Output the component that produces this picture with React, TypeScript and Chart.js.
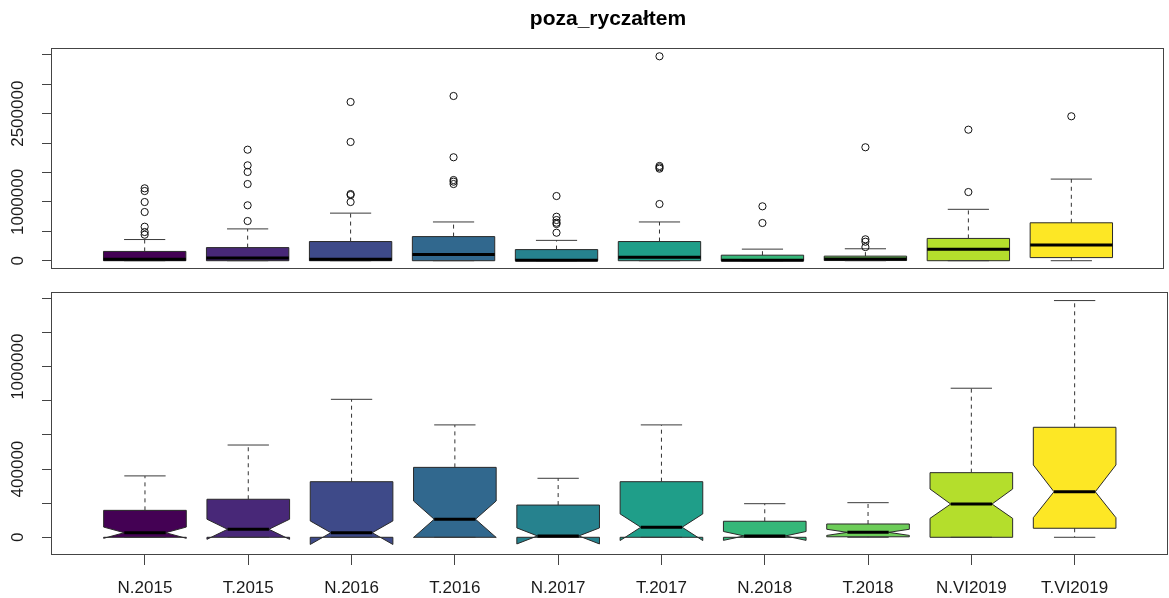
import React, { useEffect, useRef } from 'react';
import { Chart, registerables } from 'chart.js';

Chart.register(...registerables);

// ---------- data ----------
const chartTitle = 'poza_ryczałtem';
const categories = ['N.2015', 'T.2015', 'N.2016', 'T.2016', 'N.2017', 'T.2017', 'N.2018', 'T.2018', 'N.VI2019', 'T.VI2019'];
const boxColors = ['#440154', '#482878', '#3E4A89', '#31688E', '#26828E', '#1F9E89', '#35B779', '#6DCD59', '#B4DE2C', '#FDE725'];

const whiskerLow = [0, 0, 0, 0, 0, 0, 0, 0, 0, 0];
const q1 = [0, 0, 0, 0, 0, 0, 0, 3000, 0, 53000];
const median = [27000, 47000, 27000, 106000, 8000, 59000, 8000, 29000, 195000, 267000];
const q3 = [158000, 223000, 326000, 410000, 189000, 326000, 94000, 78000, 379000, 645000];
const whiskerHigh = [360000, 541000, 809000, 659000, 346000, 659000, 197000, 203000, 874000, 1388000];
const notchLow = [-6000, -12000, -42000, -1000, -39000, -19000, -18000, 11000, 111000, 115000];
const notchHigh = [60000, 106000, 96000, 213000, 55000, 137000, 34000, 47000, 283000, 424000];

const outliers: number[][] = [
  [1231000, 1185000, 998000, 828000, 578000, 488000, 442000],
  [1888000, 1622000, 1509000, 1304000, 942000, 675000],
  [2699000, 2019000, 1134000, 1117000, 998000],
  [2801000, 1759000, 1372000, 1344000, 1304000],
  [1100000, 748000, 692000, 646000, 624000, 476000],
  [3476000, 1611000, 1588000, 1565000, 964000],
  [925000, 641000],
  [1929000, 364000, 323000, 232000],
  [2228000, 1168000],
  [2456000],
];

const topYTicks = [0, 500000, 1000000, 1500000, 2000000, 2500000, 3000000, 3500000];
const topYLabels = [0, 1000000, 2500000];
const bottomYTicks = [0, 200000, 400000, 600000, 800000, 1000000, 1200000, 1400000];
const bottomYLabels = [0, 400000, 1000000];

// ---------- styles ----------
const FONT = '"Liberation Sans", Arial, Helvetica, sans-serif';
const AXIS_COLOR = '#444';
const TEXT_COLOR = '#1a1a1a';
const BOX_HALF = 0.4;
const CAP_HALF = 0.2;

function boxPlugin(notched: boolean) {
  return {
    id: 'boxes',
    beforeDatasetsDraw(chart: any) {
      const { ctx, scales } = chart;
      const x = scales.x;
      const y = scales.y;
      const line = (x1: number, y1: number, x2: number, y2: number) => {
        ctx.beginPath();
        ctx.moveTo(x1, y1);
        ctx.lineTo(x2, y2);
        ctx.stroke();
      };
      ctx.save();
      categories.forEach((_, i) => {
        const cx = x.getPixelForValue(i + 1);
        const hw = x.getPixelForValue(i + 1 + BOX_HALF) - cx;
        const chw = x.getPixelForValue(i + 1 + CAP_HALF) - cx;
        const yLo = y.getPixelForValue(whiskerLow[i]);
        const yQ1 = y.getPixelForValue(q1[i]);
        const yMed = y.getPixelForValue(median[i]);
        const yQ3 = y.getPixelForValue(q3[i]);
        const yHi = y.getPixelForValue(whiskerHigh[i]);
        const yNl = y.getPixelForValue(notchLow[i]);
        const yNh = y.getPixelForValue(notchHigh[i]);

        // box
        ctx.fillStyle = boxColors[i];
        ctx.strokeStyle = '#2a2a2a';
        ctx.lineWidth = 1;
        ctx.setLineDash([]);
        ctx.beginPath();
        if (notched) {
          ctx.moveTo(cx - hw, yQ1);
          ctx.lineTo(cx - hw, yNl);
          ctx.lineTo(cx - hw / 2, yMed);
          ctx.lineTo(cx - hw, yNh);
          ctx.lineTo(cx - hw, yQ3);
          ctx.lineTo(cx + hw, yQ3);
          ctx.lineTo(cx + hw, yNh);
          ctx.lineTo(cx + hw / 2, yMed);
          ctx.lineTo(cx + hw, yNl);
          ctx.lineTo(cx + hw, yQ1);
          ctx.closePath();
        } else {
          ctx.rect(cx - hw, yQ3, 2 * hw, yQ1 - yQ3);
        }
        ctx.fill();
        ctx.stroke();

        // whiskers
        ctx.strokeStyle = '#333';
        ctx.setLineDash([4, 4]);
        if (yHi < yQ3) line(cx, yQ3, cx, yHi);
        if (yLo > yQ1) line(cx, yQ1, cx, yLo);
        ctx.setLineDash([]);
        ctx.strokeStyle = '#3a3a3a';
        line(cx - chw, yHi, cx + chw, yHi);
        line(cx - chw, yLo, cx + chw, yLo);

        // median
        ctx.strokeStyle = '#000';
        ctx.lineWidth = 3;
        ctx.lineCap = 'butt';
        const mw = notched ? hw / 2 : hw;
        line(cx - mw, yMed, cx + mw, yMed);
        ctx.lineWidth = 1;
      });
      ctx.restore();
    },
  };
}

function framePlugin(labels: number[]) {
  return {
    id: 'frame',
    afterDraw(chart: any) {
      const { ctx, chartArea, scales } = chart;
      ctx.save();
      ctx.strokeStyle = AXIS_COLOR;
      ctx.lineWidth = 1;
      ctx.setLineDash([]);
      ctx.strokeRect(
        Math.round(chartArea.left) - 0.5,
        Math.round(chartArea.top) + 0.5,
        Math.round(chartArea.right) - Math.round(chartArea.left),
        Math.round(chartArea.bottom) - Math.round(chartArea.top) - 1
      );
      ctx.font = `17px ${FONT}`;
      ctx.fillStyle = TEXT_COLOR;
      ctx.textAlign = 'center';
      ctx.textBaseline = 'middle';
      labels.forEach((v) => {
        const py = scales.y.getPixelForValue(v);
        ctx.save();
        ctx.translate(18, py);
        ctx.rotate(-Math.PI / 2);
        ctx.fillText(String(v), 0, 0);
        ctx.restore();
      });
      ctx.restore();
    },
  };
}

function yScale(min: number, max: number, ticks: number[]) {
  return {
    type: 'linear' as const,
    min,
    max,
    afterBuildTicks: (s: any) => {
      s.ticks = ticks.map((v) => ({ value: v }));
    },
    afterFit: (s: any) => {
      s.width = 52;
    },
    ticks: { display: false, autoSkip: false },
    grid: { drawOnChartArea: false, drawTicks: true, tickLength: 10, color: AXIS_COLOR, lineWidth: 1 },
    border: { display: false },
  };
}

export default function App() {
  const topRef = useRef<HTMLCanvasElement>(null);
  const botRef = useRef<HTMLCanvasElement>(null);

  useEffect(() => {
    const outlierPoints: { x: number; y: number }[] = [];
    outliers.forEach((arr, i) => arr.forEach((v) => outlierPoints.push({ x: i + 1, y: v })));

    const top = new Chart(topRef.current as HTMLCanvasElement, {
      type: 'scatter',
      data: {
        datasets: [
          {
            data: outlierPoints,
            pointStyle: 'circle',
            pointRadius: 3.6,
            borderColor: '#111',
            backgroundColor: 'rgba(255,255,255,0)',
            borderWidth: 1,
          },
        ],
      },
      options: {
        animation: false,
        responsive: false,
        maintainAspectRatio: false,
        layout: { padding: { left: 0, right: 1.4, top: 0, bottom: 10.7 } },
        plugins: {
          legend: { display: false },
          tooltip: { enabled: false },
          title: {
            display: true,
            text: chartTitle,
            fullSize: false,
            color: '#000',
            font: { family: FONT, size: 21, weight: 'bold', lineHeight: 1.2 },
            padding: { top: 6.9, bottom: 16.2 },
          },
        },
        scales: {
          x: { type: 'linear', min: 0.1, max: 10.9, display: false },
          y: yScale(-146000, 3612000, topYTicks),
        },
      } as any,
      plugins: [boxPlugin(false), framePlugin(topYLabels)],
    });

    const bot = new Chart(botRef.current as HTMLCanvasElement, {
      type: 'scatter',
      data: { datasets: [{ data: [] }] },
      options: {
        animation: false,
        responsive: false,
        maintainAspectRatio: false,
        layout: { padding: { left: 0, right: 1.4, top: 11.7, bottom: 0 } },
        plugins: { legend: { display: false }, tooltip: { enabled: false }, title: { display: false } },
        scales: {
          x: {
            type: 'linear',
            min: 0.1,
            max: 10.9,
            afterBuildTicks: (s: any) => {
              s.ticks = categories.map((_, i) => ({ value: i + 1 }));
            },
            afterFit: (s: any) => {
              s.height = 43;
            },
            ticks: {
              autoSkip: false,
              maxRotation: 0,
              minRotation: 0,
              padding: 13,
              color: TEXT_COLOR,
              font: { family: FONT, size: 17 },
              callback: (v: any) => categories[Math.round(Number(v)) - 1] ?? '',
            },
            grid: { drawOnChartArea: false, drawTicks: true, tickLength: 10, color: AXIS_COLOR, lineWidth: 1 },
            border: { display: false },
          },
          y: yScale(-103800, 1440000, bottomYTicks),
        },
      } as any,
      plugins: [boxPlugin(true), framePlugin(bottomYLabels)],
    });

    return () => {
      top.destroy();
      bot.destroy();
    };
  }, []);

  return (
    <div style={{ position: 'absolute', left: 0, top: 0, width: 1169, height: 598, background: '#fff', overflow: 'hidden' }}>
      <canvas ref={topRef} width={1169} height={280} style={{ position: 'absolute', left: 0, top: 0, width: 1169, height: 280 }} />
      <canvas ref={botRef} width={1169} height={318} style={{ position: 'absolute', left: 0, top: 280, width: 1169, height: 318 }} />
    </div>
  );
}
